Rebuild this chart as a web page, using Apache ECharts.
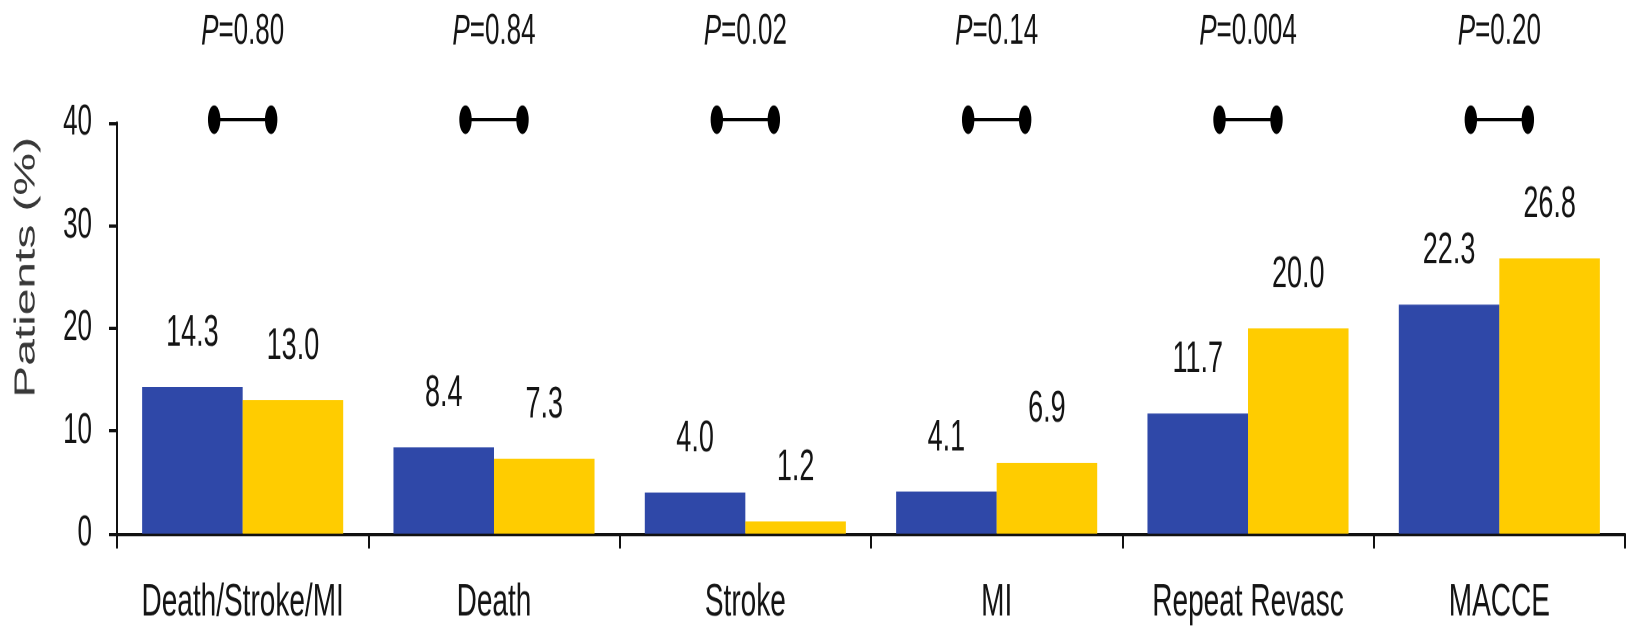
<!DOCTYPE html>
<html>
<head>
<meta charset="utf-8">
<script src="https://cdn.jsdelivr.net/npm/echarts@6/dist/echarts.min.js"></script>
<style>
  html, body { margin: 0; padding: 0; background: #fff; overflow: hidden; }
  #wrap { width: 1629px; height: 628px; overflow: hidden; }
  /* the figure is drawn in a short frame and stretched vertically */
  #chart { width: 1629px; transform-origin: 0 0; }
</style>
</head>
<body>
<div id="wrap"><div id="chart"></div></div>
<script>
// Outcome categories
var categories = ['Death/Stroke/MI', 'Death', 'Stroke', 'MI', 'Repeat Revasc', 'MACCE'];
// Event rates (%) for the two treatment groups
var groupA = [14.3, 8.4, 4.0, 4.1, 11.7, 22.3];
var groupB = [13.0, 7.3, 1.2, 6.9, 20.0, 26.8];
// P values between groups, per outcome
var pValues = ['0.80', '0.84', '0.02', '0.14', '0.004', '0.20'];
// Value axis
var yTicks = [0, 10, 20, 30, 40];

var STRETCH = 1.65;
var H = 628 / STRETCH;
var el = document.getElementById('chart');
el.style.height = H + 'px';
el.style.transform = 'scaleY(' + STRETCH + ')';

var FONT = 'Liberation Sans, Arial, sans-serif';
var TXT = '#141414';
var yMax = yTicks[yTicks.length - 1];

var chart = echarts.init(el, null, { renderer: 'canvas', devicePixelRatio: 2 });

var option = {
  animation: false,
  backgroundColor: '#ffffff',
  grid: { left: 117, right: 4, top: 123 / STRETCH, bottom: H - 533 / STRETCH, containLabel: false },
  xAxis: {
    type: 'category',
    data: categories,
    boundaryGap: true,
    axisLine: { lineStyle: { color: '#111', width: 2 } },
    axisTick: { show: true, length: 9, alignWithLabel: false, lineStyle: { color: '#111', width: 2 } },
    axisLabel: { interval: 0, margin: 28, color: TXT, fontFamily: FONT, fontSize: 28 }
  },
  yAxis: {
    type: 'value',
    min: yTicks[0],
    max: yMax,
    interval: yTicks[1] - yTicks[0],
    name: 'Patients (%)',
    nameLocation: 'middle',
    nameGap: 76,
    nameTextStyle: { color: '#383838', fontFamily: FONT, fontSize: 29, padding: [0, 0, 0, 74] },
    splitLine: { show: false },
    axisLine: { show: true, lineStyle: { color: '#111', width: 2 } },
    axisTick: { show: true, length: 8, lineStyle: { color: '#111', width: 2 } },
    axisLabel: { margin: 25, color: TXT, fontFamily: FONT, fontSize: 26 }
  },
  series: [
    {
      type: 'bar',
      data: groupA,
      barGap: '0%',
      barCategoryGap: '20%',
      itemStyle: { color: '#2F48A8' },
      label: {
        show: true, position: 'top', distance: 19,
        color: TXT, fontFamily: FONT, fontSize: 27,
        formatter: function (p) { return p.value.toFixed(1); }
      }
    },
    {
      type: 'bar',
      data: groupB,
      barGap: '0%',
      barCategoryGap: '20%',
      itemStyle: { color: '#FFCC00' },
      label: {
        show: true, position: 'top', distance: 19,
        color: TXT, fontFamily: FONT, fontSize: 27,
        formatter: function (p) { return p.value.toFixed(1); }
      }
    },
    {
      // comparison bracket with its P value above each outcome
      type: 'custom',
      clip: false,
      data: categories.map(function (c, i) { return [c, pValues[i]]; }),
      encode: { x: 0 },
      renderItem: function (params, api) {
        var c = api.coord([api.value(0), yMax]);
        var dx = 28.5, r = 6.2, cy = c[1] - 2;
        return {
          type: 'group',
          children: [
            { type: 'line', shape: { x1: c[0] - dx, y1: cy, x2: c[0] + dx, y2: cy },
              style: { stroke: '#000', lineWidth: 2 } },
            { type: 'circle', shape: { cx: 0, cy: 0, r: r }, x: c[0] - dx, y: cy, scaleY: 1.4,
              style: { fill: '#000' } },
            { type: 'circle', shape: { cx: 0, cy: 0, r: r }, x: c[0] + dx, y: cy, scaleY: 1.4,
              style: { fill: '#000' } },
            { type: 'text', x: c[0], y: cy - 53,
              style: {
                text: '{i|P}=' + pValues[params.dataIndex],
                align: 'center', verticalAlign: 'middle',
                fill: TXT, fontFamily: FONT, fontSize: 26,
                rich: { i: { fontStyle: 'italic', fontFamily: FONT, fontSize: 26, fill: TXT } }
              } }
          ]
        };
      }
    }
  ]
};

chart.setOption(option);
</script>
</body>
</html>
